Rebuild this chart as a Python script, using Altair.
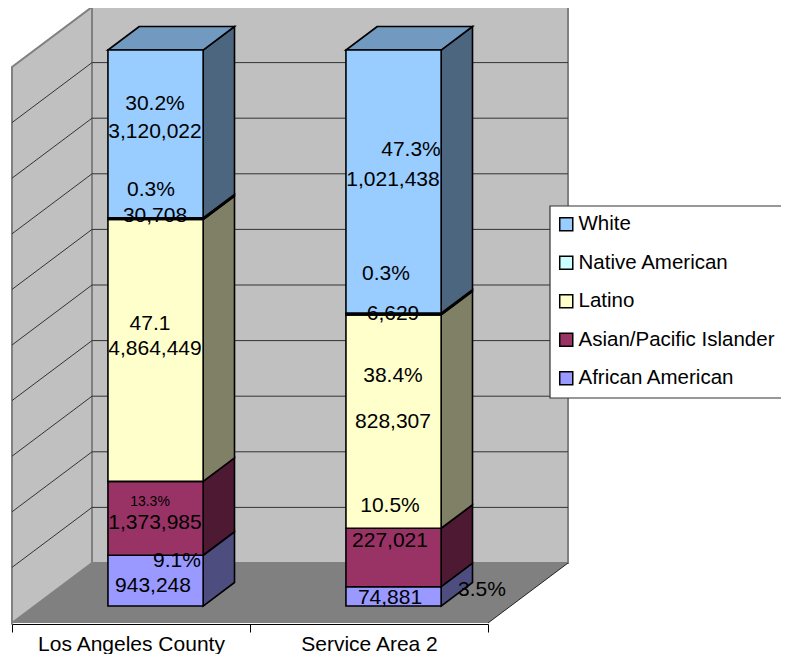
import altair as alt
import pandas as pd

# ---- values
categories = ["Los Angeles County", "Service Area 2"]
races = ["African American", "Asian/Pacific Islander", "Latino", "Native American", "White"]
la_county = [943248, 1373985, 4864449, 30708, 3120022]
service_area_2 = [74881, 227021, 828307, 6629, 1021438]
grid_percent = [10, 20, 30, 40, 50, 60, 70, 80, 90]

legend_order = ["White", "Native American", "Latino", "Asian/Pacific Islander", "African American"]
front_colors = ["#99CCFF", "#CCFFFF", "#FFFFCC", "#993366", "#9999FF"]
side_colors = {"White": "#4D6680", "Native American": "#667F7F", "Latino": "#808066",
               "Asian/Pacific Islander": "#4D1933", "African American": "#4D4D80"}
top_color = "#7299BF"
FONT = "Liberation Sans"
FS = 21

# ---- layout: page pixels <-> data units of an oblique 3D projection
W, H = 773, 616
PX_PER_CAT = 238.0
PX_PER_PCT = 5.56
ORIGIN_X, ORIGIN_Y = 12.0, 623.0      # page pixel of category 0, 0 %, front of floor
DEPTH_X, DEPTH_Y = 80.0 / PX_PER_CAT, 60.0 / PX_PER_PCT
BAR_LEFT, BAR_W = 0.308, 0.400
Z0, Z1 = 0.283, 0.675

def proj(x, p, z):
    return x + z * DEPTH_X, p + z * DEPTH_Y

def from_page(px, py):
    return (px - ORIGIN_X) / PX_PER_CAT, (ORIGIN_Y - py) / PX_PER_PCT

x_lo, _ = from_page(8, 0)
x_hi, _ = from_page(8 + W, 0)
_, y_lo = from_page(0, 8 + H)
_, y_hi = from_page(0, 8)
XS = alt.Scale(domain=[x_lo, x_hi], range=[0, W], nice=False, zero=False)
YS = alt.Scale(domain=[y_lo, y_hi], range=[H, 0], nice=False, zero=False)

def ax(f):
    return alt.X(f, type="quantitative", scale=XS, axis=None)

def ay(f):
    return alt.Y(f, type="quantitative", scale=YS, axis=None)

WALL = "#C0C0C0"
EDGE = "#808080"

# back wall
bx0, by0 = proj(0, 0, 1)
bx1, by1 = proj(2, 100, 1)
back = alt.Chart(pd.DataFrame([dict(x=bx0, x2=bx1, y=by0, y2=by1)])).mark_rect(
    fill=WALL, stroke=EDGE, strokeWidth=2).encode(x=ax("x"), x2="x2", y=ay("y"), y2="y2")

# left wall
rows = []
for z in (0, 1):
    a, b = proj(0, 0, z)
    _, c = proj(0, 100, z)
    rows.append(dict(x=a, y=b, y2=c))
left = alt.Chart(pd.DataFrame(rows)).mark_area(
    fill=WALL, stroke=EDGE, strokeWidth=2, orient="vertical").encode(x=ax("x"), y=ay("y"), y2="y2")

# floor
rows = []
for z in (0, 1):
    a, b = proj(0, 0, z)
    c, _ = proj(2, 0, z)
    rows.append(dict(x=a, x2=c, y=b))
floor = alt.Chart(pd.DataFrame(rows)).mark_area(
    fill="#808080", orient="horizontal").encode(y=ay("y"), x=ax("x"), x2="x2")

# floor's right edge
rows = [dict(x=proj(2, 0, z)[0], y=proj(2, 0, z)[1]) for z in (0, 1)]
floor_edge = alt.Chart(pd.DataFrame(rows)).mark_line(color="#222222", strokeWidth=1).encode(x=ax("x"), y=ay("y"))

# grid lines
rows = []
for p in grid_percent:
    for x, z, part in ((0, 0, "l"), (0, 1, "l"), (0, 1, "b"), (2, 1, "b")):
        a, b = proj(x, p, z)
        rows.append(dict(x=a, y=b, key=f"{p}{part}"))
grid = alt.Chart(pd.DataFrame(rows)).mark_line(color="#333333", strokeWidth=1).encode(
    x=ax("x"), y=ay("y"), detail="key:N")

# stacked bars
fronts, sides, tops = [], [], []
for b, vals in enumerate((la_county, service_area_2)):
    total = sum(vals)
    lo = 0.0
    xl = b + BAR_LEFT
    xr = xl + BAR_W
    for race, v in zip(races, vals):
        hi = lo + 100.0 * v / total
        fx0, fy0 = proj(xl, lo, Z0)
        fx1, fy1 = proj(xr, hi, Z0)
        fronts.append(dict(race=race, x=fx0, x2=fx1, y=fy0, y2=fy1))
        for z in (Z0, Z1):
            sx, sy0 = proj(xr, lo, z)
            _, sy1 = proj(xr, hi, z)
            sides.append(dict(race=race, bar=b, x=sx, y=sy0, y2=sy1))
        lo = hi
    for z in (Z0, Z1):
        tx0, ty = proj(xl, 100, z)
        tx1, _ = proj(xr, 100, z)
        tops.append(dict(bar=b, x=tx0, x2=tx1, y=ty))

sides_df = pd.DataFrame(sides)
side_layers = [
    alt.Chart(sides_df[sides_df.race == r]).mark_area(
        fill=side_colors[r], stroke="black", strokeWidth=1.6, orient="vertical"
    ).encode(x=ax("x"), y=ay("y"), y2="y2", detail="bar:N")
    for r in races
]
top_layer = alt.Chart(pd.DataFrame(tops)).mark_area(
    fill=top_color, stroke="black", strokeWidth=1.6, orient="horizontal"
).encode(y=ay("y"), x=ax("x"), x2="x2", detail="bar:N")

front = alt.Chart(pd.DataFrame(fronts)).mark_rect(stroke="black", strokeWidth=1.6).encode(
    x=ax("x"), x2="x2", y=ay("y"), y2="y2",
    color=alt.Color("race:N", scale=alt.Scale(domain=legend_order, range=front_colors),
                    legend=alt.Legend(
                        title=None, orient="none", legendX=542, legendY=200,
                        padding=6,
                        symbolType="square", symbolSize=170, symbolStrokeColor="black",
                        symbolStrokeWidth=1.5, labelFont=FONT, labelFontSize=20.5,
                        labelColor="black", labelOffset=2, rowPadding=17.5, labelLimit=300)),
)

# white panel behind the legend, running off the page's right edge as in the picture
lx0, ly0 = from_page(550, 398)
lx1, ly1 = from_page(800, 206)
legend_panel = alt.Chart(pd.DataFrame([dict(x=lx0, x2=lx1, y=ly0, y2=ly1)])).mark_rect(
    fill="white", stroke="#333333", strokeWidth=1.2).encode(x=ax("x"), x2="x2", y=ay("y"), y2="y2")

# data labels, positioned where the picture has them
labels = [
    ("30.2%", 155, 104, FS), ("3,120,022", 155, 132, FS), ("0.3%", 151, 190, FS), ("30,708", 155, 216, FS),
    ("47.1", 150, 324, FS), ("4,864,449", 155, 349, FS), ("13.3%", 150, 502, 14), ("1,373,985", 155, 523, FS),
    ("9.1%", 177, 561, FS), ("943,248", 153, 586, FS),
    ("47.3%", 411, 150, FS), ("1,021,438", 393, 180, FS), ("0.3%", 386, 274, FS), ("6,629", 393, 314, FS),
    ("38.4%", 393, 376, FS), ("828,307", 393, 422, FS), ("10.5%", 390, 506, FS), ("227,021", 390, 541, FS),
    ("74,881", 390, 598, FS), ("3.5%", 482, 590, FS),
]
label_rows = []
for t, px, py, fs in labels:
    lx, ly = from_page(px, py)
    label_rows.append(dict(t=t, x=lx, y=ly, fs=fs))
label_df = pd.DataFrame(label_rows)
text_layers = [
    alt.Chart(label_df[label_df.fs == fs]).mark_text(
        font=FONT, fontSize=int(fs), color="black", align="center", baseline="middle"
    ).encode(x=ax("x"), y=ay("y"), text="t:N")
    for fs in sorted(label_df.fs.unique())
]

# category axis on a band scale spanning the floor's front edge
axis_layer = alt.Chart(pd.DataFrame({"cat": categories})).mark_rule(opacity=0).encode(
    x=alt.X("cat:N", sort=categories,
            scale=alt.Scale(type="band", domain=categories, range=[4, 480], paddingInner=0, paddingOuter=0),
            axis=alt.Axis(title=None, labelAngle=0, labelFont=FONT, labelFontSize=21, labelColor="black",
                          tickBand="extent", tickSize=8, tickColor="black", domainColor="black",
                          labelPadding=1, grid=False, labelLimit=300)),
)

chart = alt.layer(
    back, left, floor, floor_edge, grid, *side_layers, top_layer, legend_panel, front, *text_layers, axis_layer
).resolve_scale(x="independent").properties(
    width=W, height=H,
    padding={"left": 0, "right": 0, "top": 0, "bottom": 30},
    autosize=alt.AutoSizeParams(type="none"),
).configure_view(stroke=None)

chart.save("out.html", embed_options={"renderer": "svg", "actions": False})
